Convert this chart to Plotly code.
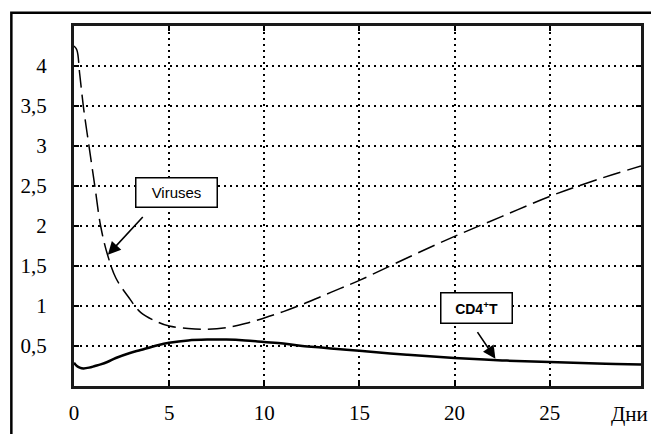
import plotly.graph_objects as go

# Data
days = [0, 0.15, 0.3, 0.5, 0.8, 1.1, 1.4, 1.75, 2.2, 2.9, 3.5, 4.4, 5, 6, 7, 8, 9,
        10, 11, 12, 13, 14, 15, 17.5, 20, 22.5, 25, 27.5, 29.8]
viruses = [4.25, 4.2, 3.9, 3.48, 2.98, 2.49, 2.0, 1.65, 1.35, 1.1, 0.92, 0.8, 0.75,
           0.72, 0.71, 0.73, 0.78, 0.85, 0.93, 1.02, 1.12, 1.22, 1.32, 1.6, 1.87,
           2.12, 2.37, 2.58, 2.75]
cd4t = [0.29, 0.25, 0.23, 0.22, 0.23, 0.25, 0.27, 0.3, 0.35, 0.41, 0.45, 0.51, 0.54,
        0.57, 0.58, 0.58, 0.57, 0.55, 0.53, 0.5, 0.48, 0.46, 0.44, 0.39, 0.35,
        0.32, 0.3, 0.28, 0.27]

x_ticks = [0, 5, 10, 15, 20, 25]
x_ticktext = ["0", "5", "10", "15", "20", "25"]
y_ticks = [0.5, 1, 1.5, 2, 2.5, 3, 3.5, 4]
y_ticktext = ["0,5", "1", "1,5", "2", "2,5", "3", "3,5", "4"]

serif = "Liberation Serif"
sans = "Liberation Sans"

fig = go.Figure()
fig.add_trace(go.Scatter(x=days, y=viruses, mode="lines", name="Viruses",
                         line=dict(color="black", width=1.5, dash="18px,7px"),
                         line_shape="spline"))
fig.add_trace(go.Scatter(x=days, y=cd4t, mode="lines", name="CD4+T",
                         line=dict(color="black", width=2.5),
                         line_shape="spline"))

axis_common = dict(showline=True, linecolor="#1a1a1a", linewidth=3, mirror="ticks",
                   ticks="inside", ticklen=5, tickwidth=2, tickcolor="black",
                   showgrid=True, gridcolor="black", gridwidth=1.5,
                   griddash="2px,4px", zeroline=False,
                   tickfont=dict(family=serif, size=21, color="black"))

fig.update_xaxes(range=[0, 29.8], tickvals=x_ticks, ticktext=x_ticktext,
                 ticklabelstandoff=6, **axis_common)
fig.update_yaxes(range=[0, 4.5], tickvals=y_ticks, ticktext=y_ticktext,
                 ticklabelstandoff=20, **axis_common)

annotations = [
    dict(x=29.2, y=-0.04, xref="x", yref="paper", text="Дни", showarrow=False,
         font=dict(family=serif, size=21, color="black"), yanchor="top"),
    # arrows
    dict(x=1.78, y=1.64, ax=3.72, ay=2.14, xref="x", yref="y", axref="x", ayref="y",
         text=" ", showarrow=True, arrowhead=2, arrowsize=1.6, arrowwidth=1.6,
         arrowcolor="black", font=dict(size=2)),
    dict(x=22.15, y=0.34, ax=21.1, ay=0.71, xref="x", yref="y", axref="x", ayref="y",
         text=" ", showarrow=True, arrowhead=2, arrowsize=1.6, arrowwidth=1.6,
         arrowcolor="black", font=dict(size=2)),
    # label boxes
    dict(x=5.39, y=2.42, xref="x", yref="y", text="Viruses", showarrow=False,
         font=dict(family=sans, size=15, color="black"), bgcolor="white",
         bordercolor="black", borderwidth=1.5, borderpad=2, width=76, height=24),
    dict(x=21.18, y=0.98, xref="x", yref="y", text="<b>CD4<sup>+</sup>T</b>",
         showarrow=False, font=dict(family=sans, size=14, color="black"),
         bgcolor="white", bordercolor="black", borderwidth=1.5, borderpad=2,
         width=66, height=25),
]

fig.update_layout(
    width=651, height=434,
    margin=dict(l=74, r=7, t=26, b=48),
    paper_bgcolor="white", plot_bgcolor="white",
    showlegend=False,
    annotations=annotations,
    shapes=[dict(type="rect", xref="paper", yref="paper",
                 x0=-0.1105, x1=1.2, y0=-0.4, y1=1.037,
                 line=dict(color="black", width=2.5), layer="above")],
)

fig.write_html("out.html", config={"displayModeBar": False},
               post_script="document.body.style.margin='0';document.body.style.padding='0';")
